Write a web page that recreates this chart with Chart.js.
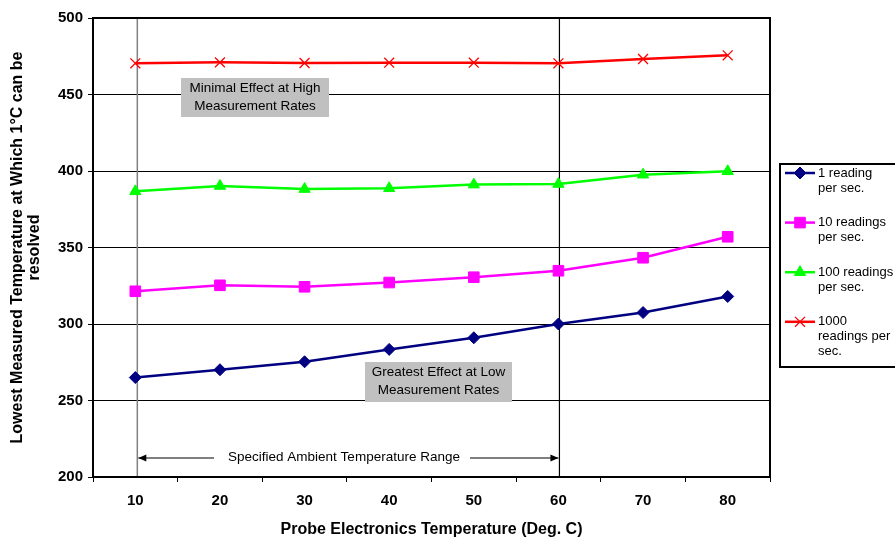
<!DOCTYPE html>
<html>
<head>
<meta charset="utf-8">
<script src="https://cdn.jsdelivr.net/npm/chart.js@4.4.1/dist/chart.umd.min.js"></script>
<style>
  html, body { margin: 0; padding: 0; background: #fff; }
  #wrap { width: 895px; height: 538px; }
</style>
</head>
<body>
<div id="wrap"><canvas id="tempChart" width="895" height="538"></canvas></div>
<script>
// values
const probeTemps = ["10", "20", "30", "40", "50", "60", "70", "80"];
const oneReading = [265, 270.1, 275.3, 283.4, 291, 300, 307.5, 318];
const tenReadings = [321.4, 325.3, 324.3, 327.1, 330.6, 334.8, 343.3, 357];
const hundredReadings = [386.7, 390.2, 388.2, 388.7, 391.1, 391.5, 397.6, 399.8];
const thousandReadings = [470.4, 471, 470.6, 470.8, 470.8, 470.4, 473.2, 475.6];
const seriesNames = [
  ["1 reading", "per sec."],
  ["10 readings", "per sec."],
  ["100 readings", "per sec."],
  ["1000", "readings per", "sec."]
];
const yMin = 200, yMax = 500, yStep = 50;
const rangeStart = "10", rangeEnd = "60";

const FONT = "'Liberation Sans', Arial, sans-serif";
const ctx = document.getElementById("tempChart").getContext("2d");

function series(label, data, color, style, radius) {
  return {
    label: label,
    data: data,
    borderColor: color,
    backgroundColor: color,
    borderWidth: 2.5,
    pointStyle: style,
    pointRadius: radius,
    pointHoverRadius: radius,
    pointBorderWidth: style === "crossRot" ? 1.3 : 1,
    tension: 0
  };
}

const extras = {
  id: "extras",
  beforeDatasetsDraw(chart) {
    const c = chart.ctx;
    const a = chart.chartArea;
    const x = chart.scales.x;
    c.save();
    // vertical markers for the specified range
    const x1 = x.getPixelForValue(probeTemps.indexOf(rangeStart));
    const x2 = x.getPixelForValue(probeTemps.indexOf(rangeEnd));
    c.strokeStyle = "#808080";
    c.lineWidth = 1.5;
    c.beginPath(); c.moveTo(x1 + 2, a.top); c.lineTo(x1 + 2, a.bottom); c.stroke();
    c.strokeStyle = "#000";
    c.lineWidth = 1.2;
    c.beginPath(); c.moveTo(x2 + 1, a.top); c.lineTo(x2 + 1, a.bottom); c.stroke();
    // frame
    c.lineWidth = 2;
    c.strokeRect(a.left, a.top, a.right - a.left, a.bottom - a.top);

    // annotation boxes
    c.font = "13.5px " + FONT;
    c.textAlign = "center";
    c.textBaseline = "middle";
    const boxes = [
      { l: 181, t: 78, w: 148, h: 39, lines: ["Minimal Effect at High", "Measurement Rates"] },
      { l: 365, t: 362, w: 147, h: 40, lines: ["Greatest Effect at Low", "Measurement Rates"] }
    ];
    boxes.forEach(b => {
      c.fillStyle = "#c0c0c0";
      c.fillRect(b.l, b.t, b.w, b.h);
      c.fillStyle = "#000";
      b.lines.forEach((s, i) => c.fillText(s, b.l + b.w / 2, b.t + 10.5 + i * 17.5));
    });

    // range arrow
    const ay = 458;
    const ax1 = x1 + 3, ax2 = x2;
    c.fillText("Specified Ambient Temperature Range", 344, ay - 1);
    c.strokeStyle = "#000";
    c.lineWidth = 1;
    c.beginPath();
    c.moveTo(ax1, ay); c.lineTo(214, ay);
    c.moveTo(470, ay); c.lineTo(ax2, ay);
    c.stroke();
    c.beginPath();
    c.moveTo(ax1, ay); c.lineTo(ax1 + 8, ay - 3.5); c.lineTo(ax1 + 8, ay + 3.5); c.closePath();
    c.moveTo(ax2, ay); c.lineTo(ax2 - 8, ay - 3.5); c.lineTo(ax2 - 8, ay + 3.5); c.closePath();
    c.fill();
    c.restore();
  },
  afterDraw(chart) {
    const c = chart.ctx;
    c.save();
    // legend box
    c.strokeStyle = "#000";
    c.lineWidth = 2;
    c.strokeRect(780, 164, 130, 203);
    c.font = "13px " + FONT;
    c.textAlign = "left";
    c.textBaseline = "middle";
    chart.data.datasets.forEach((ds, i) => {
      const y = 173 + i * 49.6;
      c.strokeStyle = ds.borderColor;
      c.lineWidth = 2.5;
      c.beginPath(); c.moveTo(785, y); c.lineTo(815, y); c.stroke();
      c.fillStyle = ds.backgroundColor;
      c.lineWidth = ds.pointBorderWidth;
      Chart.helpers.drawPoint(c, { pointStyle: ds.pointStyle, radius: ds.pointRadius, rotation: 0, borderWidth: ds.pointBorderWidth }, 800, y);
      c.fillStyle = "#000";
      seriesNames[i].forEach((s, j) => c.fillText(s, 818, y + j * 15));
    });
    c.restore();
  }
};

new Chart(ctx, {
  type: "line",
  data: {
    labels: probeTemps,
    datasets: [
      series(seriesNames[0].join(" "), oneReading, "#000080", "rectRot", 6),
      series(seriesNames[1].join(" "), tenReadings, "#ff00ff", "rect", 7.5),
      series(seriesNames[2].join(" "), hundredReadings, "#00ff00", "triangle", 6.5),
      series(seriesNames[3].join(" "), thousandReadings, "#ff0000", "crossRot", 7)
    ]
  },
  options: {
    responsive: false,
    animation: false,
    layout: { padding: { top: 18, right: 125, left: 0, bottom: 0 } },
    plugins: {
      legend: { display: false },
      tooltip: { enabled: false }
    },
    scales: {
      x: {
        offset: true,
        grid: { offset: true, drawOnChartArea: false, color: "#000", tickLength: 5, tickWidth: 1 },
        border: { color: "#000", width: 2 },
        ticks: { color: "#000", font: { family: FONT, size: 15, weight: "bold" }, padding: 10, maxRotation: 0 },
        title: {
          display: true,
          text: "Probe Electronics Temperature (Deg. C)",
          color: "#000",
          font: { family: FONT, size: 16, weight: "bold", lineHeight: 1 },
          padding: { top: 0, bottom: 0 }
        },
        afterFit(scale) { scale.height = 61; }
      },
      y: {
        min: yMin,
        max: yMax,
        ticks: { stepSize: yStep, color: "#000", font: { family: FONT, size: 15, weight: "bold" }, padding: 5 },
        grid: { color: "#000", lineWidth: 1, tickLength: 5 },
        border: { color: "#000", width: 2 },
        title: {
          display: true,
          text: ["Lowest Measured Temperature at Which 1°C can be", "resolved"],
          color: "#000",
          font: { family: FONT, size: 16, weight: "bold", lineHeight: "17px" },
          padding: { top: 9.5, bottom: 0 }
        },
        afterFit(scale) { scale.width = 93; }
      }
    }
  },
  plugins: [extras]
});
</script>
</body>
</html>
